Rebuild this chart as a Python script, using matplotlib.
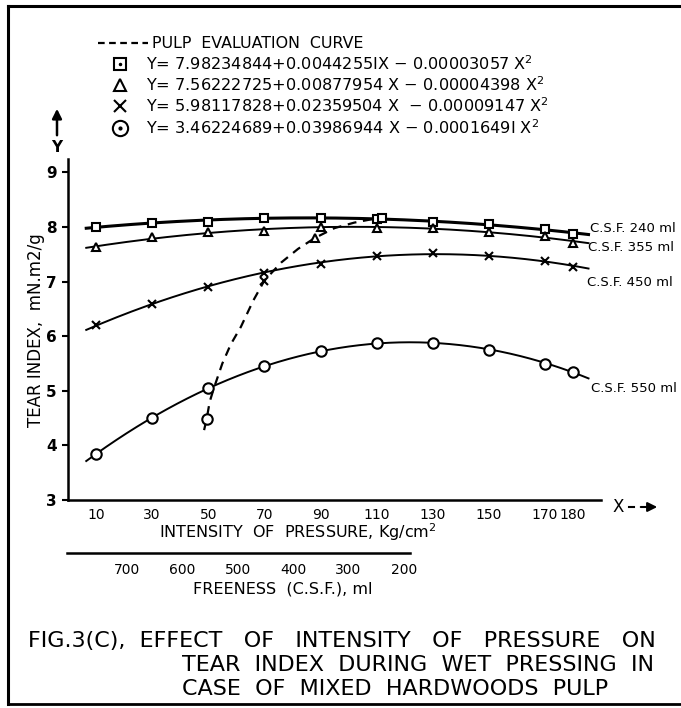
import numpy as np
import matplotlib
matplotlib.use("Agg")
import matplotlib.pyplot as plt

plt.rcParams['font.family'] = ['DejaVu Sans']
plt.rcParams['mathtext.fontset'] = 'dejavusans'

# pressure levels, Kg/cm2
pressure = [10, 30, 50, 70, 90, 110, 130, 150, 170, 180]
# tear index, mN.m2/g, for each freeness level
csf240 = [8.00, 8.08, 8.10, 8.17, 8.17, 8.15, 8.10, 8.05, 7.96, 7.88]
csf355 = [7.63, 7.81, 7.91, 7.93, 8.00, 7.98, 7.98, 7.91, 7.84, 7.71]
csf450 = [6.20, 6.59, 6.91, 7.16, 7.33, 7.47, 7.53, 7.47, 7.38, 7.27]
csf550 = [3.84, 4.51, 5.05, 5.45, 5.72, 5.87, 5.88, 5.75, 5.50, 5.35]

# pulp evaluation curve (dashed)
pulp_x = [48.5, 49.4, 50.5, 52, 55, 58, 61.6, 66, 70, 76, 82, 88, 95, 102, 108, 112]
pulp_y = [4.28, 4.48, 4.80, 5.05, 5.50, 5.85, 6.17, 6.65, 7.02, 7.35, 7.60, 7.80, 7.98, 8.08, 8.14, 8.16]
pulp_pts_x = [49.4, 70, 88, 112]
pulp_pts_y = [4.48, 7.02, 7.80, 8.16]

equations = [
    "Y= 7.98234844+0.0044255IX $-$ 0.00003057 X$^2$",
    "Y= 7.56222725+0.00877954 X $-$ 0.00004398 X$^2$",
    "Y= 5.98117828+0.02359504 X  $-$ 0.00009147 X$^2$",
    "Y= 3.46224689+0.03986944 X $-$ 0.0001649I X$^2$",
]
csf_labels = ["C.S.F. 240 ml", "C.S.F. 355 ml", "C.S.F. 450 ml", "C.S.F. 550 ml"]
freeness_ticks = [700, 600, 500, 400, 300, 200]

W, H = 681, 708
fig = plt.figure(figsize=(W / 100, H / 100), dpi=100)

# overlay axes in pixel coordinates for the lettering around the plot
over = fig.add_axes([0, 0, 1, 1])
over.set_xlim(0, W)
over.set_ylim(H, 0)
over.axis('off')

# main axes: x=0 at px 68, 2.806 px per unit; y=3 at px 500, 54.6 px per unit
x0, x1 = 68, 601
ylo_px, yhi_px = 500, 159
ax = fig.add_axes([x0 / W, 1 - ylo_px / H, (x1 - x0) / W, (ylo_px - yhi_px) / H])
ax.set_xlim(0, (x1 - x0) / 2.806)
ax.set_ylim(3, 3 + (ylo_px - yhi_px) / 54.6)
for s in ['top', 'right']:
    ax.spines[s].set_visible(False)
for s in ['left', 'bottom']:
    ax.spines[s].set_linewidth(1.8)
ax.set_yticks(range(3, 10))
ax.set_xticks(pressure)
ax.tick_params(axis='y', direction='out', length=4, width=1.5, labelsize=11, pad=4)
ax.tick_params(axis='x', length=0, labelsize=10, pad=6)
ax.set_xticklabels([str(p) for p in pressure])
for t in ax.get_yticklabels():
    t.set_fontweight('bold')
ax.patch.set_alpha(0)

series = [
    (csf240, 's', 6, 2.2),
    (csf355, '^', 6, 1.4),
    (csf450, 'x', 5.5, 1.4),
    (csf550, 'o', 7.5, 1.4),
]
xs = np.linspace(6.5, 185.5, 200)
for vals, mk, ms, lw in series:
    coef = np.polyfit(pressure, vals, 2)
    ax.plot(xs, np.polyval(coef, xs), color='black', lw=lw)
    ax.plot(pressure, vals, ls='none', marker=mk, ms=ms, mfc='white',
            mec='black', mew=1.5)

ax.plot(pulp_x, pulp_y, color='black', lw=1.6, ls=(0, (4, 3)))
for px_, py_, mk, ms in zip(pulp_pts_x, pulp_pts_y, ['o', 'x', '^', 's'], [7.5, 5.5, 6, 6]):
    ax.plot(px_, py_, ls='none', marker=mk, ms=ms, mfc='white', mec='black', mew=1.5)

# curve end labels
lab_pos = [(186.0, 7.98), (185.3, 7.62), (185.0, 6.99), (186.5, 5.05)]
for (lx, ly), t in zip(lab_pos, csf_labels):
    ax.text(lx, ly, t, fontsize=9.5, ha='left', va='center', clip_on=False)

# axis titles
over.text(36, 330, "TEAR INDEX,  mN.m2/g", rotation=90, fontsize=12,
          ha='center', va='center')
over.text(298, 532, "INTENSITY  OF  PRESSURE, Kg/cm$^2$", fontsize=11.5,
          ha='center', va='center')

# Y arrow
over.annotate('', xy=(57, 106), xytext=(57, 138),
              arrowprops=dict(arrowstyle='-|>', color='black', lw=1.8,
                              mutation_scale=14))
over.text(57, 148, "Y", fontsize=11, fontweight='bold', ha='center', va='center')

# X arrow
over.text(618, 507, "X", fontsize=12, ha='center', va='center')
over.plot([629, 634], [507, 507], color='black', lw=1.5)
over.annotate('', xy=(660, 507), xytext=(638, 507),
              arrowprops=dict(arrowstyle='-|>', color='black', lw=1.5,
                              mutation_scale=14))

# freeness scale below
f0, f1 = 67, 410
fax = fig.add_axes([f0 / W, 1 - 553 / H, (f1 - f0) / W, 0.001])
fax.set_xlim(808, 189)
fax.set_ylim(0, 1)
for s in ['top', 'right', 'left']:
    fax.spines[s].set_visible(False)
fax.spines['bottom'].set_linewidth(1.8)
fax.set_yticks([])
fax.set_xticks(freeness_ticks)
fax.tick_params(axis='x', length=0, labelsize=10, pad=7)
over.text(283, 589, "FREENESS  (C.S.F.), ml", fontsize=11.5, ha='center', va='center')

# legend block at top
over.plot([98, 148], [43, 43], color='black', lw=1.6, ls=(0, (3, 2)))
over.text(152, 43, "PULP  EVALUATION  CURVE", fontsize=11.4, ha='left', va='center')
rows = [64, 85, 106, 128]
for ry, mk, ms, eq in zip(rows, ['s', '^', 'x', 'o'], [8, 8, 9, 11], equations):
    over.plot(120, ry, ls='none', marker=mk, ms=ms, mfc='white', mec='black', mew=1.5)
    over.text(146, ry, eq, fontsize=11.6, ha='left', va='center')
over.plot(120, rows[0], ls='none', marker='.', ms=3, color='black')
over.plot(120, rows[3], ls='none', marker='.', ms=4, color='black')

# caption
over.text(28, 641, "FIG.3(C),  EFFECT   OF   INTENSITY   OF   PRESSURE   ON",
          fontsize=16, ha='left', va='center')
over.text(182, 665, "TEAR  INDEX  DURING  WET  PRESSING  IN",
          fontsize=16, ha='left', va='center')
over.text(182, 689, "CASE  OF  MIXED  HARDWOODS  PULP",
          fontsize=16, ha='left', va='center')

# frame
over.plot([8, W], [6, 6], color='black', lw=2.2)
over.plot([8, 8], [6, 704], color='black', lw=2.2)
over.plot([8, W], [704, 704], color='black', lw=2.0)

fig.savefig("out.png", dpi=100)
